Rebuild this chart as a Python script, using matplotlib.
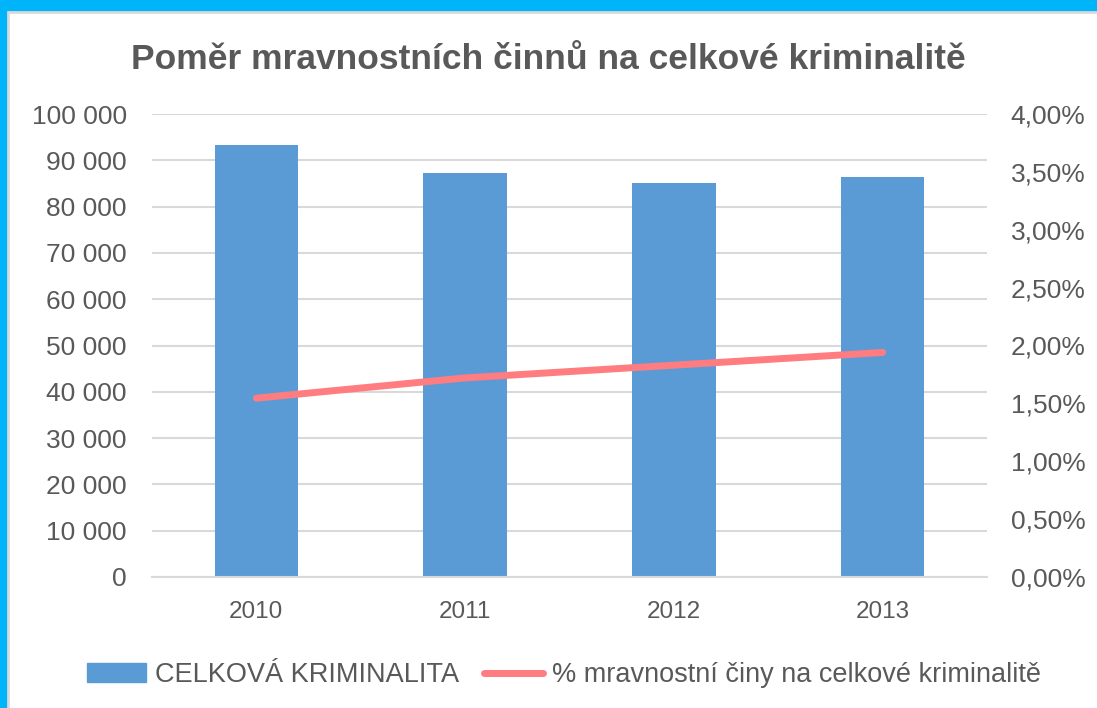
import matplotlib.pyplot as plt
import matplotlib.ticker as mticker
from matplotlib.patches import Rectangle, Patch
from matplotlib.lines import Line2D

plt.rcParams['font.family'] = ['Liberation Sans', 'DejaVu Sans']

# data
roky = ['2010', '2011', '2012', '2013']
celkova_kriminalita = [93300, 87300, 85100, 86400]
podil_mravnostni = [1.545, 1.72, 1.83, 1.94]  # v %

sedy = '#595959'
modra = '#5B9BD5'
ruzova = '#FF7C80'

fig = plt.figure(figsize=(10.97, 7.08), dpi=100)

# ramecek kolem grafu
fig.patches.append(Rectangle((0, 0), 1, 1, transform=fig.transFigure,
                             facecolor='#00B4FA', edgecolor='none', zorder=-3))
fig.patches.append(Rectangle((8/1097, -0.01), 1.01, 1 - 12/708 + 0.01,
                             transform=fig.transFigure, facecolor='white',
                             edgecolor='#D9D9D9', linewidth=2, zorder=-2))

ax = fig.add_axes([152/1097, 1 - 577/708, 835/1097, 463/708])
x = range(len(roky))
ax.bar(x, celkova_kriminalita, width=0.4, color=modra, zorder=2)
ax.set_xlim(-0.5, 3.5)
ax.set_ylim(0, 100000)
ax.set_yticks(range(0, 100001, 10000))
ax.yaxis.set_major_formatter(mticker.FuncFormatter(
    lambda v, p: f'{int(v):,}'.replace(',', ' ')))
ax.set_xticks(list(x))
ax.set_xticklabels(roky)
ax.grid(axis='y', color='#D9D9D9', linewidth=1.5, zorder=0)
ax.set_axisbelow(True)
for s in ['top', 'right', 'left']:
    ax.spines[s].set_visible(False)
ax.spines['bottom'].set_color('#D9D9D9')
ax.spines['bottom'].set_linewidth(1.5)
ax.tick_params(axis='y', length=0, pad=18, labelsize=19, labelcolor=sedy)
ax.tick_params(axis='x', length=0, pad=17, labelsize=17.5, labelcolor=sedy)

ax2 = ax.twinx()
ax2.plot(list(x), podil_mravnostni, color=ruzova, linewidth=5,
         solid_capstyle='round', zorder=3)
ax2.set_ylim(0, 4)
ax2.set_yticks([i * 0.5 for i in range(9)])
ax2.yaxis.set_major_formatter(mticker.FuncFormatter(
    lambda v, p: f'{v:.2f}'.replace('.', ',') + '%'))
for s in ax2.spines.values():
    s.set_visible(False)
ax2.tick_params(axis='y', length=0, pad=17, labelsize=19, labelcolor=sedy)

fig.text(0.5, 1 - 69/708, 'Poměr mravnostních činnů na celkové kriminalitě',
         ha='center', va='baseline', fontsize=25.5, fontweight='bold', color=sedy)

handles = [Patch(color=modra, label='CELKOVÁ KRIMINALITA'),
           Line2D([0], [0], color=ruzova, linewidth=5, solid_capstyle='round',
                  label='% mravnostní činy na celkové kriminalitě')]
fig.legend(handles=handles, loc='center', bbox_to_anchor=(564/1097, 1 - 675/708),
           ncol=2, frameon=False, fontsize=19.5, labelcolor=sedy,
           handlelength=2.18, handleheight=0.65, handletextpad=0.33,
           columnspacing=0.9, borderaxespad=0, borderpad=0)

fig.savefig('out.png', dpi=100)
